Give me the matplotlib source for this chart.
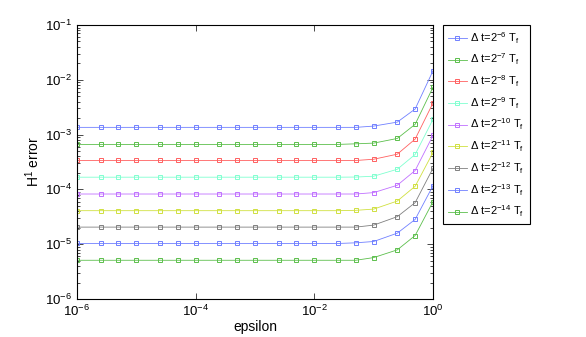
import numpy as np
import matplotlib
matplotlib.use('Agg')
import matplotlib.pyplot as plt
from matplotlib.ticker import FixedLocator, NullLocator, LogLocator, LogFormatterMathtext

plt.rcParams['font.family'] = ['Liberation Sans', 'DejaVu Sans']
plt.rcParams['mathtext.fontset'] = 'custom'
plt.rcParams['mathtext.rm'] = 'Liberation Sans'
plt.rcParams['mathtext.it'] = 'Liberation Sans'

epsilon = [1e-6, 2.5e-6, 5e-6, 1e-5, 2.5e-5, 5e-5, 1e-4, 2.5e-4, 5e-4, 1e-3,
           2.5e-3, 5e-3, 1e-2, 2.5e-2, 5e-2, 1e-1, 0.25, 0.5, 1.0]

# flat part (1e-6 .. 5e-2) then the rise for 0.1, 0.25, 0.5, 1
err_6 = [1.355e-3] * 15 + [1.43e-3, 1.69e-3, 2.93e-3, 1.46e-2]
err_7 = [6.62e-4] * 14 + [6.79e-4, 6.99e-4, 8.5e-4, 1.54e-3, 7.31e-3]
err_8 = [3.37e-4] * 15 + [3.55e-4, 4.39e-4, 8.28e-4, 3.77e-3]
err_9 = [1.67e-4] * 14 + [1.68e-4, 1.74e-4, 2.33e-4, 4.34e-4, 1.90e-3]
err_10 = [8.24e-5] * 15 + [8.74e-5, 1.19e-4, 2.21e-4, 9.67e-4]
err_11 = [4.09e-5] * 14 + [4.15e-5, 4.37e-5, 6.13e-5, 1.14e-4, 4.72e-4]
err_12 = [2.05e-5] * 15 + [2.23e-5, 3.18e-5, 5.73e-5, 2.43e-4]
err_13 = [1.03e-5] * 14 + [1.06e-5, 1.12e-5, 1.59e-5, 2.83e-5, 1.17e-4]
err_14 = [5.09e-6] * 15 + [5.70e-6, 7.88e-6, 1.44e-5, 5.98e-5]

exponents = [6, 7, 8, 9, 10, 11, 12, 13, 14]
series = [err_6, err_7, err_8, err_9, err_10, err_11, err_12, err_13, err_14]
colors = ['#7080ff', '#5cbf4c', '#ff6060', '#80ffd0', '#c070ff',
          '#d0e040', '#808080', '#7080ff', '#5cbf4c']
xticks = [1e-6, 1e-4, 1e-2, 1.0]

fig = plt.figure(figsize=(5.86, 3.37), dpi=100)
ax = fig.add_axes([77/586, 1-299/337, (433-77)/586, (299-25)/337])

for k, vals, c in zip(exponents, series, colors):
    ax.loglog(epsilon, vals, '-s', color=c, lw=0.6, ms=3.5, mfc='none', mew=0.7,
              label=r'$\Delta$ t=2$^{-%d}$ T$_{\rm f}$' % k)

ax.set_xlim(1e-6, 1)
ax.set_ylim(1e-6, 1e-1)
ax.xaxis.set_major_locator(FixedLocator(xticks))
ax.xaxis.set_minor_locator(NullLocator())
ax.xaxis.set_major_formatter(LogFormatterMathtext())
ax.yaxis.set_major_locator(LogLocator(base=10.0, numticks=10))
ax.yaxis.set_minor_locator(LogLocator(base=10.0, subs=np.arange(2, 10), numticks=10))
ax.tick_params(which='both', direction='in', top=True, right=True, labelsize=9.5)
ax.tick_params(which='major', length=4, width=0.5)
ax.tick_params(which='minor', length=2, width=0.5)
for s in ax.spines.values():
    s.set_linewidth(0.8)

ax.set_xlabel('epsilon', fontsize=10, labelpad=1)
ax.set_ylabel(r'H$^1$ error', fontsize=10, labelpad=2)

leg = ax.legend(loc='upper left', bbox_to_anchor=(442.7/586, 1-25/337),
                bbox_transform=fig.transFigure, borderaxespad=0, fancybox=False,
                edgecolor='black', framealpha=1, fontsize=8, handlelength=1.7,
                handletextpad=0.35, labelspacing=0.55, borderpad=0.45)
leg.get_frame().set_linewidth(0.8)

fig.savefig('out.png', dpi=100)
